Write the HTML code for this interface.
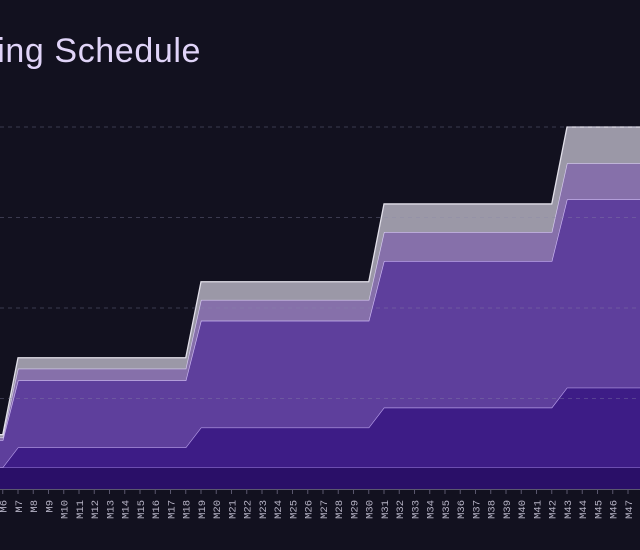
<!DOCTYPE html>
<html><head><meta charset="utf-8"><style>
html,body{margin:0;padding:0;background:#12111f;overflow:hidden}
svg{display:block}
</style></head><body>
<svg id="chart" width="640" height="550" xmlns="http://www.w3.org/2000/svg">
<rect x="0" y="0" width="640" height="550" fill="#12111f"/>
<text x="201" y="62" text-anchor="end" font-family="Liberation Sans, sans-serif" font-size="34" letter-spacing="0.6" fill="#e0d4f8">Hiring Schedule</text>
<g id="areas"></g><g id="grid"></g><g id="axis"></g>
</svg>
<script>
const months = Array.from({length:50},(_,i)=>'M'+(i+1));
function phase(a,b,c,d,e){const r=[];for(let i=1;i<=50;i++){r.push(i<=6?a:i<=18?b:i<=30?c:i<=42?d:e);}return r;}
const layer1 = phase(24,24,24,24,24);
const layer2 = phase(0,22,44,66,88);
const layer3 = phase(30,74,118,162,208);
const layer4 = phase(3,13,23,32,40);
const layer5 = phase(3,12,20,31,40);
const gridTicks = [100,200,300,400];
const series = [layer1,layer2,layer3,layer4,layer5];
const fills = ['#2a0f68','#3d1c86','#5e3f9c','#8670aa','#9b98a7'];
const strokes = ['#8c6fd0','#b49be8','#cdb8f5','#d9cdf3','#e2e0ea'];
const NS='http://www.w3.org/2000/svg';
const x = i => 18 + (i-6)*15.25;
const y = v => 489 - v*0.905;
const areas=document.getElementById('areas');
let base=months.map(()=>0);
series.forEach((s,k)=>{
  const top=base.map((b,i)=>b+s[i]);
  let d='M'+months.map((m,i)=>x(i)+','+y(top[i])).join(' L');
  for(let i=months.length-1;i>=0;i--) d+=' L'+x(i)+','+y(base[i]);
  d+='Z';
  const p=document.createElementNS(NS,'path');
  
  
  p.setAttribute('d',d);p.setAttribute('fill',fills[k]);areas.appendChild(p);
  const l=document.createElementNS(NS,'path');
  
  
  l.setAttribute('d','M'+months.map((m,i)=>x(i)+','+y(top[i])).join(' L'));
  l.setAttribute('fill','none');l.setAttribute('stroke',strokes[k]);l.setAttribute('stroke-width','1.3');
  areas.appendChild(l);
  base=top;
});
const grid=document.getElementById('grid');
gridTicks.forEach(t=>{const l=document.createElementNS(NS,'line');


l.setAttribute('x1',0);l.setAttribute('x2',640);l.setAttribute('y1',y(t));l.setAttribute('y2',y(t));
l.setAttribute('stroke','#8a86a8');l.setAttribute('stroke-opacity','0.35');l.setAttribute('stroke-dasharray','4 4');grid.appendChild(l);});
const axis=document.getElementById('axis');
const al=document.createElementNS(NS,'line');


al.setAttribute('x1',0);al.setAttribute('x2',640);al.setAttribute('y1',489.5);al.setAttribute('y2',489.5);al.setAttribute('stroke','#5a576e');
axis.appendChild(al);
months.forEach((m,i)=>{
  const tx=x(i); if(tx<-10||tx>650) return;
  const t=document.createElementNS(NS,'line');
  
  
  t.setAttribute('x1',tx);t.setAttribute('x2',tx);t.setAttribute('y1',489);t.setAttribute('y2',494);t.setAttribute('stroke','#5a576e');
  axis.appendChild(t);
  const lb=document.createElementNS(NS,'text');
  
  
  lb.setAttribute('transform','translate('+(tx+3.8)+',500) rotate(-90)');
  lb.setAttribute('text-anchor','end');
  lb.setAttribute('font-family','Liberation Mono, monospace');
  lb.setAttribute('font-size','10.5');lb.setAttribute('fill','#b5b2c4');
  lb.textContent=m;axis.appendChild(lb);
});
</script>
</body></html>
